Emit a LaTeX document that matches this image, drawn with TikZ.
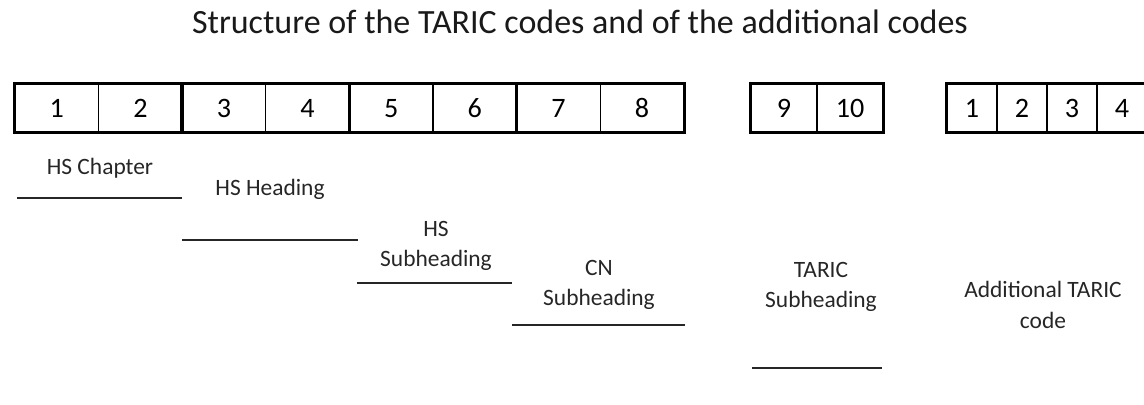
\documentclass[tikz,border=0pt]{standalone}
\usepackage{fontspec}
\setmainfont{Carlito}
\usepackage{tikz}
\usetikzlibrary{positioning}

\begin{document}
\begin{tikzpicture}[x=0.03cm, y=-0.03cm, inner sep=0pt,
	cell/.style={draw=black, line width=0.9pt, minimum height=1.44cm, text height=16pt, text depth=0pt, font=\fontsize{24}{24}\selectfont},
	wide/.style={cell, minimum width=2.508cm},
	mid/.style={cell, minimum width=1.98cm},
	small/.style={cell, minimum width=1.5cm},
	frame/.style={draw=black, line width=2.2pt},
	label/.style={align=center, font=\fontsize{20}{26}\selectfont, text=black!85},
	rule/.style={draw=black!85, line width=1.6pt}]

	\useasboundingbox (0,0) rectangle (1144,405);

	\node[font=\fontsize{29}{29}\selectfont, anchor=base, text=black!90](title) at (580,34) {Structure of the TARIC codes and of the additional codes};

	% TARIC Stellen 1-8
	\node[wide](c1) at (56.8,108) {1};
	\node[wide](c2) at (140.4,108) {2};
	\node[wide](c3) at (224.0,108) {3};
	\node[wide](c4) at (307.6,108) {4};
	\node[wide](c5) at (391.2,108) {5};
	\node[wide](c6) at (474.8,108) {6};
	\node[wide](c7) at (558.4,108) {7};
	\node[wide](c8) at (642.0,108) {8};

	% TARIC Stellen 9-10
	\node[mid](c9) at (784,108) {9};
	\node[mid](c10) at (850,108) {10};

	% Zusatzcode
	\node[small](z1) at (972,108) {1};
	\node[small](z2) at (1022,108) {2};
	\node[small](z3) at (1072,108) {3};
	\node[small](z4) at (1122,108) {4};

	% dicke Rahmen
	\draw[frame] (c1.north west) rectangle (c2.south east);
	\draw[frame] (c3.north west) rectangle (c4.south east);
	\draw[frame] (c5.north west) rectangle (c6.south east);
	\draw[frame] (c7.north west) rectangle (c8.south east);
	\draw[frame] (c9.north west) rectangle (c10.south east);
	\draw[frame] (z1.north west) rectangle (z4.south east);

	% Beschriftungen
	\node[label, anchor=base](chapter) at (100,175) {HS Chapter};
	\node[label, anchor=base](heading) at (270,196) {HS Heading};
	\node[label](hssub) at (436,246) {HS\\Subheading};
	\node[label](cnsub) at (599,285) {CN\\Subheading};
	\node[label](taricsub) at (821,287) {TARIC\\Subheading};
	\node[label](additional) at (1043,305) {Additional TARIC\\code};

	\coordinate (chapter_start) at (17,198);
	\coordinate (chapter_ende) at (182,198);
	\coordinate (heading_start) at (182,240);
	\coordinate (heading_ende) at (358,240);
	\coordinate (hssub_start) at (357,283);
	\coordinate (hssub_ende) at (512,283);
	\coordinate (cnsub_start) at (512,325);
	\coordinate (cnsub_ende) at (685,325);
	\coordinate (taricsub_start) at (752,368);
	\coordinate (taricsub_ende) at (882,368);

	% Linien
	\draw[rule] (chapter_start) -- (chapter_ende);
	\draw[rule] (heading_start) -- (heading_ende);
	\draw[rule] (hssub_start) -- (hssub_ende);
	\draw[rule] (cnsub_start) -- (cnsub_ende);
	\draw[rule] (taricsub_start) -- (taricsub_ende);

\end{tikzpicture}
\end{document}
